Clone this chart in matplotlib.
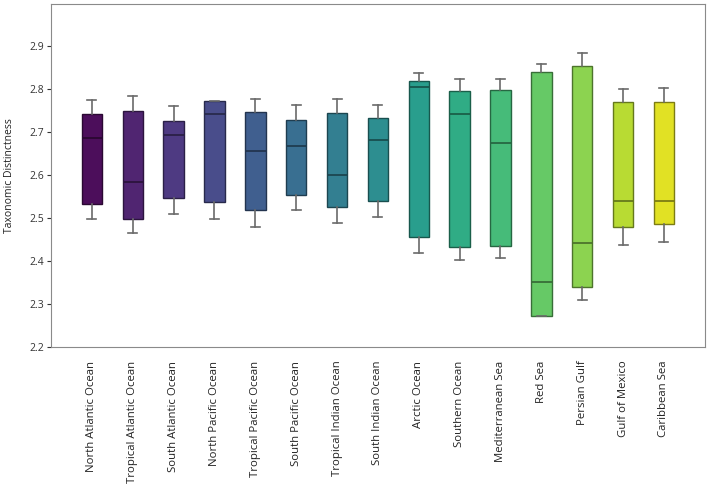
import matplotlib
matplotlib.use("Agg")
import matplotlib.pyplot as plt
import numpy as np

# regions and box statistics
regions = ["North Atlantic Ocean", "Tropical Atlantic Ocean", "South Atlantic Ocean",
           "North Pacific Ocean", "Tropical Pacific Ocean", "South Pacific Ocean",
           "Tropical Indian Ocean", "South Indian Ocean", "Arctic Ocean",
           "Southern Ocean", "Mediterranean Sea", "Red Sea", "Persian Gulf",
           "Gulf of Mexico", "Caribbean Sea"]
whisker_low = [2.498, 2.464, 2.509, 2.498, 2.478, 2.519, 2.488, 2.502, 2.417,
               2.402, 2.407, 2.272, 2.309, 2.437, 2.444]
q1 = [2.533, 2.498, 2.547, 2.537, 2.519, 2.553, 2.526, 2.539, 2.456,
      2.433, 2.434, 2.272, 2.338, 2.479, 2.485]
median = [2.685, 2.584, 2.692, 2.742, 2.654, 2.666, 2.599, 2.681, 2.804,
          2.741, 2.674, 2.350, 2.442, 2.539, 2.539]
q3 = [2.741, 2.749, 2.726, 2.772, 2.745, 2.728, 2.743, 2.733, 2.819,
      2.795, 2.798, 2.838, 2.852, 2.769, 2.769]
whisker_high = [2.774, 2.782, 2.759, 2.772, 2.776, 2.762, 2.777, 2.762, 2.836,
                2.822, 2.823, 2.857, 2.883, 2.800, 2.801]

plt.rcParams['font.family'] = ['Open Sans', 'DejaVu Sans']

stats = []
for i in range(len(regions)):
    stats.append({"label": regions[i], "whislo": whisker_low[i], "q1": q1[i],
                  "med": median[i], "q3": q3[i], "whishi": whisker_high[i],
                  "fliers": []})

fig = plt.figure(figsize=(7.09, 4.94), dpi=100)
ax = fig.add_axes([0.072, 0.298, 0.922, 0.694])

colors = plt.cm.viridis(np.linspace(0.0, 0.96, len(regions)))
# a touch lighter, like the original
colors[:, :3] = colors[:, :3] * 0.93 + 0.05
pos = np.arange(len(regions))
bp = ax.bxp(stats, positions=pos, widths=0.5, patch_artist=True, showfliers=False,
            capwidths=0.22,
            whiskerprops=dict(color="#6a6a6a", linewidth=1.2),
            capprops=dict(color="#6a6a6a", linewidth=1.2))

for i, box in enumerate(bp["boxes"]):
    c = colors[i]
    dark = tuple(np.array(c[:3]) * 0.55)
    box.set_facecolor(c)
    box.set_edgecolor(dark)
    box.set_linewidth(1.0)
    bp["medians"][i].set_color(dark)
    bp["medians"][i].set_linewidth(1.3)

ax.set_xlim(-1.0, 15.0)
ax.set_ylim(2.2, 2.997)
ax.set_yticks([2.2, 2.3, 2.4, 2.5, 2.6, 2.7, 2.8, 2.9])
ax.set_xticks(pos)
ax.set_xticklabels(regions, rotation=90, fontsize=8.2, color="#222222")
ax.tick_params(axis="x", length=0, pad=10)
ax.tick_params(axis="y", length=3, labelsize=7.5, colors="#333333", pad=2)
for s in ax.spines.values():
    s.set_color("#8a8a8a")
ax.set_ylabel("Taxonomic Distinctness", fontsize=7.5, color="#222222", labelpad=10)

fig.savefig("out.png", dpi=100)
